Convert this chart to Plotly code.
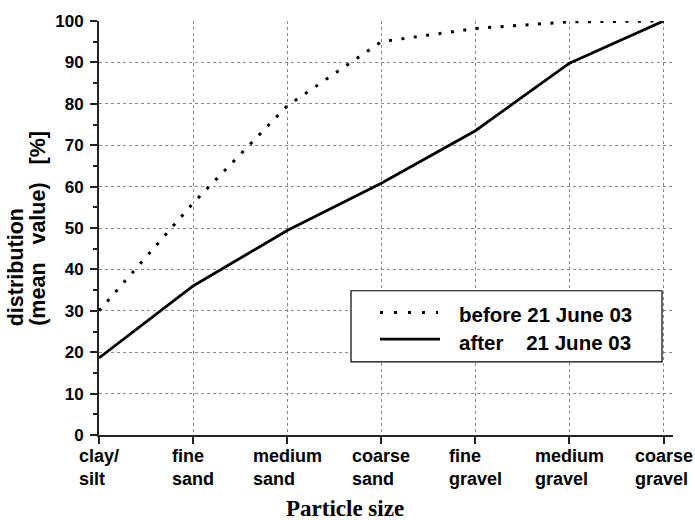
import plotly.graph_objects as go

categories = ["clay/<br>silt", "fine<br>sand", "medium<br>sand", "coarse<br>sand",
              "fine<br>gravel", "medium<br>gravel", "coarse<br>gravel"]
cat_keys = ["clay/silt", "fine sand", "medium sand", "coarse sand",
            "fine gravel", "medium gravel", "coarse gravel"]
before_vals = [30.0, 56.0, 79.5, 95.0, 98.2, 99.8, 100.0]
after_vals = [18.6, 36.0, 49.4, 60.8, 73.5, 89.8, 100.0]
y_ticks = [0, 10, 20, 30, 40, 50, 60, 70, 80, 90, 100]
name_before = "before 21 June 03"
name_after = "after    21 June 03"

W, H = 695, 520
L, R, T, B = 99, 22, 16, 85
PW, PH = W - L - R, H - T - B


def px_x(x):
    return (x - L) / PW


def px_y(y):
    return (H - B - y) / PH


fig = go.Figure()
fig.add_trace(go.Scatter(x=cat_keys, y=before_vals, mode="lines", name=name_before,
                         line=dict(color="black", width=3, dash="3px,9.5px"),
                         cliponaxis=False, showlegend=False))
fig.add_trace(go.Scatter(x=cat_keys, y=after_vals, mode="lines", name=name_after,
                         line=dict(color="black", width=2.8),
                         cliponaxis=False, showlegend=False))

bold = "Liberation Sans"
annotations = []
for key, lab in zip(cat_keys, categories):
    annotations.append(dict(x=key, xref="x", y=0, yref="paper", yanchor="middle",
                            xanchor="center", yshift=-32, text="<b>%s</b>" % lab,
                            align="left", showarrow=False,
                            font=dict(family=bold, size=18, color="black")))

annotations.append(dict(x=px_x(345), xref="paper", y=px_y(509), yref="paper",
                        xanchor="center", yanchor="middle", showarrow=False,
                        text="<b>Particle size</b>",
                        font=dict(family="Liberation Serif", size=23, color="black")))

# y-axis title (two lines, bottom aligned)
annotations.append(dict(x=px_x(16), xref="paper", y=px_y(327), yref="paper",
                        xanchor="center", yanchor="bottom", textangle=-90,
                        showarrow=False, text="<b>distribution</b>",
                        font=dict(family=bold, size=21.5, color="black")))
annotations.append(dict(x=px_x(38), xref="paper", y=px_y(327), yref="paper",
                        xanchor="center", yanchor="bottom", textangle=-90,
                        showarrow=False, text="<b>(mean   value)   [%]</b>",
                        font=dict(family=bold, size=21.5, color="black")))

# manual legend
shapes = [
    dict(type="rect", xref="paper", yref="paper", x0=px_x(351), x1=px_x(662),
         y0=px_y(361), y1=px_y(289), line=dict(color="black", width=1.2),
         fillcolor="white", layer="above"),
    dict(type="line", xref="paper", yref="paper", x0=px_x(380), x1=px_x(438),
         y0=px_y(311), y1=px_y(311), line=dict(color="black", width=3, dash="3px,11px"),
         layer="above"),
    dict(type="line", xref="paper", yref="paper", x0=px_x(380), x1=px_x(440),
         y0=px_y(338), y1=px_y(338), line=dict(color="black", width=2.8),
         layer="above"),
]
annotations.append(dict(x=px_x(457), xref="paper", y=px_y(313), yref="paper",
                        xanchor="left", yanchor="middle", showarrow=False,
                        text="<b>%s</b>" % name_before,
                        font=dict(family=bold, size=20.5, color="black")))
annotations.append(dict(x=px_x(457), xref="paper", y=px_y(341), yref="paper",
                        xanchor="left", yanchor="middle", showarrow=False,
                        text="<b>%s</b>" % name_after,
                        font=dict(family=bold, size=20.5, color="black")))

fig.update_layout(
    width=W, height=H,
    margin=dict(l=L, r=R, t=T, b=B, pad=0),
    paper_bgcolor="white", plot_bgcolor="white",
    showlegend=False,
    annotations=annotations,
    shapes=shapes,
    xaxis=dict(type="category", categoryorder="array", categoryarray=cat_keys,
               range=[0, 6.1], showticklabels=False,
               showgrid=True, gridcolor="#8a8a8a", griddash="dot", gridwidth=1,
               showline=True, linecolor="#222", linewidth=2,
               ticks="outside", ticklen=7, tickcolor="#222", tickwidth=1.5,
               zeroline=False, fixedrange=True),
    yaxis=dict(range=[0, 100], tickvals=y_ticks, ticktext=["<b>%d</b>" % v for v in y_ticks],
               tickfont=dict(family=bold, size=17, color="black"),
               ticklabelstandoff=3,
               showgrid=True, gridcolor="#8a8a8a", griddash="dot", gridwidth=1,
               showline=True, linecolor="#222", linewidth=2,
               ticks="outside", ticklen=7, tickcolor="#222", tickwidth=1.5,
               minor=dict(dtick=5, ticks="outside", ticklen=4, tickcolor="#222", showgrid=False),
               zeroline=False, fixedrange=True),
)

fig.write_html("out.html")
